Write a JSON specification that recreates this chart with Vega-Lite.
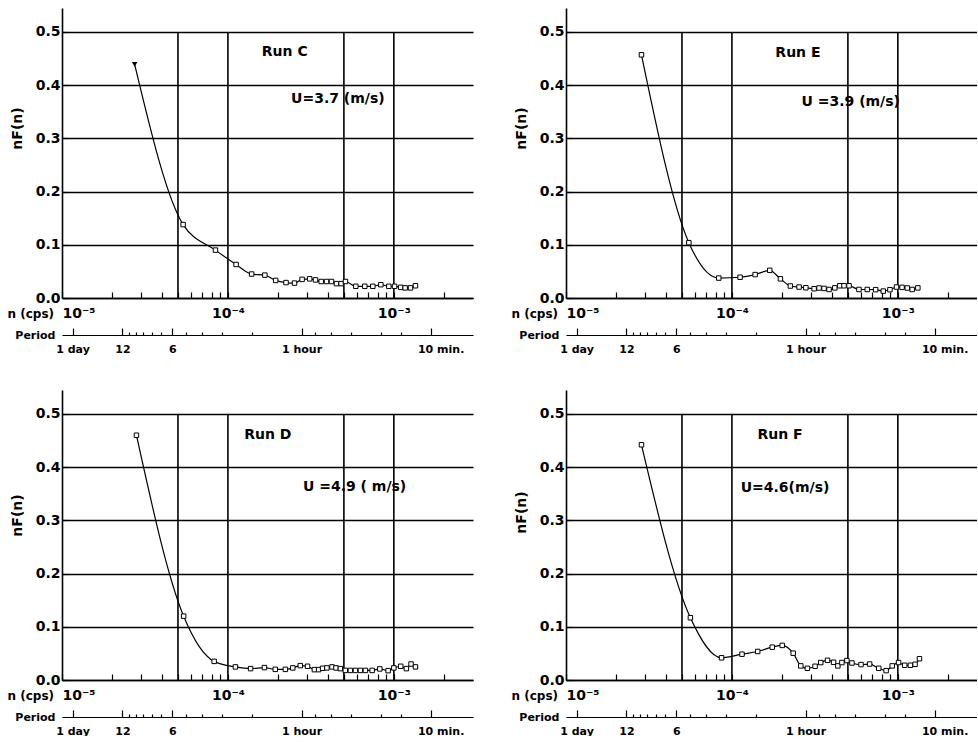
{
  "$schema": "https://vega.github.io/schema/vega-lite/v6.json",
  "background": "white",
  "padding": {"left": 7, "top": 8, "right": 0, "bottom": 0},
  "datasets": {
    "C": [
      {"f": 2.74e-5, "v": 0.439}, {"f": 5.37e-5, "v": 0.138}, {"f": 8.41e-5, "v": 0.090}, {"f": 1.12e-4, "v": 0.063},
      {"f": 1.39e-4, "v": 0.045}, {"f": 1.67e-4, "v": 0.043}, {"f": 1.94e-4, "v": 0.033}, {"f": 2.24e-4, "v": 0.029},
      {"f": 2.52e-4, "v": 0.028}, {"f": 2.80e-4, "v": 0.035}, {"f": 3.11e-4, "v": 0.036}, {"f": 3.37e-4, "v": 0.034},
      {"f": 3.65e-4, "v": 0.031}, {"f": 3.93e-4, "v": 0.031}, {"f": 4.21e-4, "v": 0.031}, {"f": 4.51e-4, "v": 0.027},
      {"f": 4.81e-4, "v": 0.027}, {"f": 5.11e-4, "v": 0.031}, {"f": 5.90e-4, "v": 0.022}, {"f": 6.68e-4, "v": 0.022},
      {"f": 7.47e-4, "v": 0.022}, {"f": 8.35e-4, "v": 0.025}, {"f": 9.33e-4, "v": 0.022}, {"f": 1.01e-3, "v": 0.022},
      {"f": 1.10e-3, "v": 0.020}, {"f": 1.17e-3, "v": 0.019}, {"f": 1.26e-3, "v": 0.019}, {"f": 1.35e-3, "v": 0.023}
    ],
    "E": [
      {"f": 2.85e-5, "v": 0.457}, {"f": 5.5e-5, "v": 0.104}, {"f": 8.33e-5, "v": 0.0375}, {"f": 1.12e-4, "v": 0.039},
      {"f": 1.38e-4, "v": 0.044}, {"f": 1.69e-4, "v": 0.052}, {"f": 1.96e-4, "v": 0.036}, {"f": 2.25e-4, "v": 0.0225},
      {"f": 2.54e-4, "v": 0.0206}, {"f": 2.79e-4, "v": 0.0193}, {"f": 3.13e-4, "v": 0.0174}, {"f": 3.35e-4, "v": 0.0188},
      {"f": 3.59e-4, "v": 0.018}, {"f": 3.85e-4, "v": 0.016}, {"f": 4.17e-4, "v": 0.019}, {"f": 4.47e-4, "v": 0.023},
      {"f": 4.74e-4, "v": 0.023}, {"f": 5.08e-4, "v": 0.023}, {"f": 5.83e-4, "v": 0.016}, {"f": 6.54e-4, "v": 0.016},
      {"f": 7.35e-4, "v": 0.0156}, {"f": 8.17e-4, "v": 0.013}, {"f": 8.96e-4, "v": 0.0156}, {"f": 9.82e-4, "v": 0.0206},
      {"f": 1.06e-3, "v": 0.020}, {"f": 1.14e-3, "v": 0.0188}, {"f": 1.22e-3, "v": 0.016}, {"f": 1.32e-3, "v": 0.019}
    ],
    "D": [
      {"f": 2.81e-5, "v": 0.46}, {"f": 5.41e-5, "v": 0.12}, {"f": 8.26e-5, "v": 0.035}, {"f": 1.11e-4, "v": 0.0246},
      {"f": 1.37e-4, "v": 0.0214}, {"f": 1.66e-4, "v": 0.0233}, {"f": 1.93e-4, "v": 0.020}, {"f": 2.22e-4, "v": 0.020},
      {"f": 2.46e-4, "v": 0.0227}, {"f": 2.73e-4, "v": 0.027}, {"f": 3.02e-4, "v": 0.0258}, {"f": 3.32e-4, "v": 0.0195},
      {"f": 3.52e-4, "v": 0.0195}, {"f": 3.72e-4, "v": 0.022}, {"f": 3.95e-4, "v": 0.0227}, {"f": 4.24e-4, "v": 0.0246},
      {"f": 4.48e-4, "v": 0.0227}, {"f": 4.76e-4, "v": 0.0214}, {"f": 5.1e-4, "v": 0.018}, {"f": 5.47e-4, "v": 0.018},
      {"f": 5.87e-4, "v": 0.018}, {"f": 6.29e-4, "v": 0.018}, {"f": 6.74e-4, "v": 0.018}, {"f": 7.4e-4, "v": 0.018},
      {"f": 8.23e-4, "v": 0.0208}, {"f": 9.24e-4, "v": 0.0176}, {"f": 1.0e-3, "v": 0.0227}, {"f": 1.10e-3, "v": 0.0258},
      {"f": 1.19e-3, "v": 0.0214}, {"f": 1.27e-3, "v": 0.030}, {"f": 1.35e-3, "v": 0.0246}
    ],
    "F": [
      {"f": 2.85e-5, "v": 0.442}, {"f": 5.62e-5, "v": 0.117}, {"f": 8.66e-5, "v": 0.0417}, {"f": 1.15e-4, "v": 0.0485},
      {"f": 1.43e-4, "v": 0.0536}, {"f": 1.75e-4, "v": 0.0617}, {"f": 2.01e-4, "v": 0.065}, {"f": 2.34e-4, "v": 0.0504},
      {"f": 2.6e-4, "v": 0.0265}, {"f": 2.85e-4, "v": 0.022}, {"f": 3.17e-4, "v": 0.0258}, {"f": 3.43e-4, "v": 0.0328},
      {"f": 3.77e-4, "v": 0.037}, {"f": 4.1e-4, "v": 0.0333}, {"f": 4.35e-4, "v": 0.0265}, {"f": 4.6e-4, "v": 0.0328},
      {"f": 4.93e-4, "v": 0.0366}, {"f": 5.29e-4, "v": 0.032}, {"f": 6.0e-4, "v": 0.029}, {"f": 6.76e-4, "v": 0.030},
      {"f": 7.67e-4, "v": 0.022}, {"f": 8.5e-4, "v": 0.0176}, {"f": 9.25e-4, "v": 0.0265}, {"f": 1.01e-3, "v": 0.0328},
      {"f": 1.10e-3, "v": 0.0277}, {"f": 1.19e-3, "v": 0.0277}, {"f": 1.27e-3, "v": 0.0295}, {"f": 1.35e-3, "v": 0.040}
    ],
    "grid": [{"f": 0.00005}, {"f": 0.0001}, {"f": 0.0005}, {"f": 0.001}],
    "periods": [
      {"p": 0.0000115740741}, {"p": 0.0000231481481}, {"p": 0.0000462962963}, {"p": 0.000277777778}, {"p": 0.00166666667}
    ]
  },
  "concat": [
    {
      "width": 411, "height": 290,
      "layer": [
        {"data": {"name": "grid"}, "mark": {"type": "rule", "color": "black", "strokeWidth": 1.6},
         "encoding": {
           "x": {"field": "f", "type": "quantitative", "scale": {"type": "log", "domain": [0.00001, 0.003], "nice": false},
                 "axis": {"orient": "bottom", "title": "n (cps)", "values": [0.00001,0.00002,0.00003,0.00004,0.00005,0.00006,0.00007,0.00008,0.00009,0.0001,0.0002,0.0003,0.0004,0.0005,0.0006,0.0007,0.0008,0.0009,0.001,0.002],
                          "tickSize": -6, "tickWidth": 1.2, "domainWidth": 1.6, "grid": false, "labelFlush": true, "labelOverlap": false, "labelPadding": 14, "labelFontSize": 14,
                          "labelExpr": "datum.value < 0.000015 ? '10⁻⁵' : abs(datum.value - 0.0001) < 0.000001 ? '10⁻⁴' : abs(datum.value - 0.001) < 0.00001 ? '10⁻³' : ''",
                          "titleX": -55, "titleY": 15, "titleAlign": "left", "titleBaseline": "middle", "titleFontSize": 12, "titleAngle": 0}},
           "y": {"datum": 0, "type": "quantitative", "scale": {"domain": [0, 0.545], "nice": false, "zero": false},
                 "axis": {"title": "nF(n)", "values": [0,0.05,0.1,0.15,0.2,0.25,0.3,0.35,0.4,0.45,0.5], "tickSize": -6, "tickWidth": 1.2, "domainWidth": 1.6,
                          "labelPadding": 8, "labelFontSize": 14, "labelExpr": "round(datum.value*100) % 10 == 0 ? format(datum.value, '.1f') : ''",
                          "grid": true, "gridColor": "black", "gridWidth": 1.6, "gridOpacity": {"condition": {"test": "round(datum.value*100) % 10 == 0", "value": 1}, "value": 0},
                          "titleX": -45, "titleY": 120, "titleFontSize": 14, "titleBaseline": "middle"}},
           "y2": {"datum": 0.5}
         }},
        {"data": {"name": "C"}, "mark": {"type": "line", "interpolate": "monotone", "color": "black", "strokeWidth": 1.2},
         "encoding": {"x": {"field": "f", "type": "quantitative", "scale": {"type": "log", "domain": [0.00001, 0.003], "nice": false}, "axis": null},
                      "y": {"field": "v", "type": "quantitative", "scale": {"domain": [0, 0.545], "nice": false, "zero": false}}}},
        {"data": {"name": "C"}, "transform": [{"filter": "datum.f > 0.00003"}],
         "mark": {"type": "point", "shape": "square", "filled": true, "fill": "white", "stroke": "black", "strokeWidth": 1, "size": 20, "opacity": 1},
         "encoding": {"x": {"field": "f", "type": "quantitative", "scale": {"type": "log", "domain": [0.00001, 0.003], "nice": false}, "axis": null},
                      "y": {"field": "v", "type": "quantitative", "scale": {"domain": [0, 0.545], "nice": false, "zero": false}}}},
        {"data": {"name": "C"}, "transform": [{"filter": "datum.f < 0.00003"}],
         "mark": {"type": "point", "shape": "triangle-down", "filled": true, "color": "black", "size": 30, "opacity": 1},
         "encoding": {"x": {"field": "f", "type": "quantitative", "scale": {"type": "log", "domain": [0.00001, 0.003], "nice": false}, "axis": null},
                      "y": {"field": "v", "type": "quantitative", "scale": {"domain": [0, 0.545], "nice": false, "zero": false}}}},
        {"data": {"values": [{}]}, "mark": {"type": "text", "fontSize": 14, "fontWeight": "bold", "color": "black"},
         "encoding": {"x": {"datum": 0.00022, "type": "quantitative", "scale": {"type": "log", "domain": [0.00001, 0.003], "nice": false}, "axis": null},
                      "y": {"datum": 0.462, "type": "quantitative", "scale": {"domain": [0, 0.545], "nice": false, "zero": false}},
                      "text": {"value": "Run C"}}},
        {"data": {"values": [{}]}, "mark": {"type": "text", "fontSize": 14, "fontWeight": "bold", "color": "black"},
         "encoding": {"x": {"datum": 0.00046, "type": "quantitative", "scale": {"type": "log", "domain": [0.00001, 0.003], "nice": false}, "axis": null},
                      "y": {"datum": 0.374, "type": "quantitative", "scale": {"domain": [0, 0.545], "nice": false, "zero": false}},
                      "text": {"value": "U=3.7 (m/s)"}}},
        {"data": {"name": "periods"}, "mark": {"type": "point", "opacity": 0},
         "encoding": {"x": {"field": "p", "type": "quantitative", "scale": {"type": "log", "domain": [0.00001, 0.003], "nice": false},
                            "axis": {"orient": "bottom", "offset": 37, "values": [0.0000115740741,0.0000231481481,0.0000462962963,0.000277777778,0.00166666667], "tickSize": -7, "tickWidth": 1.2, "domainWidth": 1.2,
                                     "grid": false, "labelOverlap": false, "labelFlush": false, "labelPadding": 15, "labelFontSize": 11,
                                     "labelExpr": "datum.value < 0.000015 ? '1 day' : datum.value < 0.00003 ? '12' : datum.value < 0.0001 ? '6' : datum.value < 0.001 ? '1 hour' : '10 min.'",
                                     "labelOffset": {"condition": {"test": "datum.value > 0.001", "value": 10}, "value": 0},
                                     "title": "Period", "titleX": -7, "titleY": 0, "titleAlign": "right", "titleBaseline": "middle", "titleFontSize": 11, "titleAngle": 0}},
                      "y": {"datum": 0, "type": "quantitative", "scale": {"domain": [0, 0.545], "nice": false, "zero": false}}}},
        {"data": {"name": "periods"}, "mark": {"type": "point", "opacity": 0},
         "encoding": {"x": {"field": "p", "type": "quantitative", "scale": {"type": "log", "domain": [0.00001, 0.003], "nice": false},
                            "axis": {"orient": "bottom", "offset": 37, "values": [0.000025253,0.000027778,0.000030864,0.000034722,0.000039683,0.000055556,0.000069444,0.000092593,0.00013889,0.00033333,0.00041667,0.00055556,0.00083333,0.0011111],
                                     "tickSize": -3, "tickWidth": 1.2, "domain": false, "labels": false, "grid": false, "title": null}},
                      "y": {"datum": 0, "type": "quantitative", "scale": {"domain": [0, 0.545], "nice": false, "zero": false}}}}
      ],
      "resolve": {"axis": {"x": "independent"}}
    },
    {
      "width": 411, "height": 290,
      "layer": [
        {"data": {"name": "grid"}, "mark": {"type": "rule", "color": "black", "strokeWidth": 1.6},
         "encoding": {
           "x": {"field": "f", "type": "quantitative", "scale": {"type": "log", "domain": [0.00001, 0.003], "nice": false},
                 "axis": {"orient": "bottom", "title": "n (cps)", "values": [0.00001,0.00002,0.00003,0.00004,0.00005,0.00006,0.00007,0.00008,0.00009,0.0001,0.0002,0.0003,0.0004,0.0005,0.0006,0.0007,0.0008,0.0009,0.001,0.002],
                          "tickSize": -6, "tickWidth": 1.2, "domainWidth": 1.6, "grid": false, "labelFlush": true, "labelOverlap": false, "labelPadding": 14, "labelFontSize": 14,
                          "labelExpr": "datum.value < 0.000015 ? '10⁻⁵' : abs(datum.value - 0.0001) < 0.000001 ? '10⁻⁴' : abs(datum.value - 0.001) < 0.00001 ? '10⁻³' : ''",
                          "titleX": -55, "titleY": 15, "titleAlign": "left", "titleBaseline": "middle", "titleFontSize": 12, "titleAngle": 0}},
           "y": {"datum": 0, "type": "quantitative", "scale": {"domain": [0, 0.545], "nice": false, "zero": false},
                 "axis": {"title": "nF(n)", "values": [0,0.05,0.1,0.15,0.2,0.25,0.3,0.35,0.4,0.45,0.5], "tickSize": -6, "tickWidth": 1.2, "domainWidth": 1.6,
                          "labelPadding": 8, "labelFontSize": 14, "labelExpr": "round(datum.value*100) % 10 == 0 ? format(datum.value, '.1f') : ''",
                          "grid": true, "gridColor": "black", "gridWidth": 1.6, "gridOpacity": {"condition": {"test": "round(datum.value*100) % 10 == 0", "value": 1}, "value": 0},
                          "titleX": -45, "titleY": 120, "titleFontSize": 14, "titleBaseline": "middle"}},
           "y2": {"datum": 0.5}
         }},
        {"data": {"name": "E"}, "mark": {"type": "line", "interpolate": "monotone", "color": "black", "strokeWidth": 1.2},
         "encoding": {"x": {"field": "f", "type": "quantitative", "scale": {"type": "log", "domain": [0.00001, 0.003], "nice": false}, "axis": null},
                      "y": {"field": "v", "type": "quantitative", "scale": {"domain": [0, 0.545], "nice": false, "zero": false}}}},
        {"data": {"name": "E"},
         "mark": {"type": "point", "shape": "square", "filled": true, "fill": "white", "stroke": "black", "strokeWidth": 1, "size": 20, "opacity": 1},
         "encoding": {"x": {"field": "f", "type": "quantitative", "scale": {"type": "log", "domain": [0.00001, 0.003], "nice": false}, "axis": null},
                      "y": {"field": "v", "type": "quantitative", "scale": {"domain": [0, 0.545], "nice": false, "zero": false}}}},
        {"data": {"values": [{}]}, "mark": {"type": "text", "fontSize": 14, "fontWeight": "bold", "color": "black"},
         "encoding": {"x": {"datum": 0.00025, "type": "quantitative", "scale": {"type": "log", "domain": [0.00001, 0.003], "nice": false}, "axis": null},
                      "y": {"datum": 0.46, "type": "quantitative", "scale": {"domain": [0, 0.545], "nice": false, "zero": false}},
                      "text": {"value": "Run E"}}},
        {"data": {"values": [{}]}, "mark": {"type": "text", "fontSize": 14, "fontWeight": "bold", "color": "black"},
         "encoding": {"x": {"datum": 0.00052, "type": "quantitative", "scale": {"type": "log", "domain": [0.00001, 0.003], "nice": false}, "axis": null},
                      "y": {"datum": 0.368, "type": "quantitative", "scale": {"domain": [0, 0.545], "nice": false, "zero": false}},
                      "text": {"value": "U =3.9 (m/s)"}}},
        {"data": {"name": "periods"}, "mark": {"type": "point", "opacity": 0},
         "encoding": {"x": {"field": "p", "type": "quantitative", "scale": {"type": "log", "domain": [0.00001, 0.003], "nice": false},
                            "axis": {"orient": "bottom", "offset": 37, "values": [0.0000115740741,0.0000231481481,0.0000462962963,0.000277777778,0.00166666667], "tickSize": -7, "tickWidth": 1.2, "domainWidth": 1.2,
                                     "grid": false, "labelOverlap": false, "labelFlush": false, "labelPadding": 15, "labelFontSize": 11,
                                     "labelExpr": "datum.value < 0.000015 ? '1 day' : datum.value < 0.00003 ? '12' : datum.value < 0.0001 ? '6' : datum.value < 0.001 ? '1 hour' : '10 min.'",
                                     "labelOffset": {"condition": {"test": "datum.value > 0.001", "value": 10}, "value": 0},
                                     "title": "Period", "titleX": -7, "titleY": 0, "titleAlign": "right", "titleBaseline": "middle", "titleFontSize": 11, "titleAngle": 0}},
                      "y": {"datum": 0, "type": "quantitative", "scale": {"domain": [0, 0.545], "nice": false, "zero": false}}}},
        {"data": {"name": "periods"}, "mark": {"type": "point", "opacity": 0},
         "encoding": {"x": {"field": "p", "type": "quantitative", "scale": {"type": "log", "domain": [0.00001, 0.003], "nice": false},
                            "axis": {"orient": "bottom", "offset": 37, "values": [0.000025253,0.000027778,0.000030864,0.000034722,0.000039683,0.000055556,0.000069444,0.000092593,0.00013889,0.00033333,0.00041667,0.00055556,0.00083333,0.0011111],
                                     "tickSize": -3, "tickWidth": 1.2, "domain": false, "labels": false, "grid": false, "title": null}},
                      "y": {"datum": 0, "type": "quantitative", "scale": {"domain": [0, 0.545], "nice": false, "zero": false}}}}
      ],
      "resolve": {"axis": {"x": "independent"}}
    },
    {
      "width": 411, "height": 290,
      "layer": [
        {"data": {"name": "grid"}, "mark": {"type": "rule", "color": "black", "strokeWidth": 1.6},
         "encoding": {
           "x": {"field": "f", "type": "quantitative", "scale": {"type": "log", "domain": [0.00001, 0.003], "nice": false},
                 "axis": {"orient": "bottom", "title": "n (cps)", "values": [0.00001,0.00002,0.00003,0.00004,0.00005,0.00006,0.00007,0.00008,0.00009,0.0001,0.0002,0.0003,0.0004,0.0005,0.0006,0.0007,0.0008,0.0009,0.001,0.002],
                          "tickSize": -6, "tickWidth": 1.2, "domainWidth": 1.6, "grid": false, "labelFlush": true, "labelOverlap": false, "labelPadding": 14, "labelFontSize": 14,
                          "labelExpr": "datum.value < 0.000015 ? '10⁻⁵' : abs(datum.value - 0.0001) < 0.000001 ? '10⁻⁴' : abs(datum.value - 0.001) < 0.00001 ? '10⁻³' : ''",
                          "titleX": -55, "titleY": 15, "titleAlign": "left", "titleBaseline": "middle", "titleFontSize": 12, "titleAngle": 0}},
           "y": {"datum": 0, "type": "quantitative", "scale": {"domain": [0, 0.545], "nice": false, "zero": false},
                 "axis": {"title": "nF(n)", "values": [0,0.05,0.1,0.15,0.2,0.25,0.3,0.35,0.4,0.45,0.5], "tickSize": -6, "tickWidth": 1.2, "domainWidth": 1.6,
                          "labelPadding": 8, "labelFontSize": 14, "labelExpr": "round(datum.value*100) % 10 == 0 ? format(datum.value, '.1f') : ''",
                          "grid": true, "gridColor": "black", "gridWidth": 1.6, "gridOpacity": {"condition": {"test": "round(datum.value*100) % 10 == 0", "value": 1}, "value": 0},
                          "titleX": -45, "titleY": 125, "titleFontSize": 14, "titleBaseline": "middle"}},
           "y2": {"datum": 0.5}
         }},
        {"data": {"name": "D"}, "mark": {"type": "line", "interpolate": "monotone", "color": "black", "strokeWidth": 1.2},
         "encoding": {"x": {"field": "f", "type": "quantitative", "scale": {"type": "log", "domain": [0.00001, 0.003], "nice": false}, "axis": null},
                      "y": {"field": "v", "type": "quantitative", "scale": {"domain": [0, 0.545], "nice": false, "zero": false}}}},
        {"data": {"name": "D"},
         "mark": {"type": "point", "shape": "square", "filled": true, "fill": "white", "stroke": "black", "strokeWidth": 1, "size": 20, "opacity": 1},
         "encoding": {"x": {"field": "f", "type": "quantitative", "scale": {"type": "log", "domain": [0.00001, 0.003], "nice": false}, "axis": null},
                      "y": {"field": "v", "type": "quantitative", "scale": {"domain": [0, 0.545], "nice": false, "zero": false}}}},
        {"data": {"values": [{}]}, "mark": {"type": "text", "fontSize": 14, "fontWeight": "bold", "color": "black"},
         "encoding": {"x": {"datum": 0.000174, "type": "quantitative", "scale": {"type": "log", "domain": [0.00001, 0.003], "nice": false}, "axis": null},
                      "y": {"datum": 0.46, "type": "quantitative", "scale": {"domain": [0, 0.545], "nice": false, "zero": false}},
                      "text": {"value": "Run  D"}}},
        {"data": {"values": [{}]}, "mark": {"type": "text", "fontSize": 14, "fontWeight": "bold", "color": "black"},
         "encoding": {"x": {"datum": 0.00058, "type": "quantitative", "scale": {"type": "log", "domain": [0.00001, 0.003], "nice": false}, "axis": null},
                      "y": {"datum": 0.362, "type": "quantitative", "scale": {"domain": [0, 0.545], "nice": false, "zero": false}},
                      "text": {"value": "U =4.9  ( m/s)"}}},
        {"data": {"name": "periods"}, "mark": {"type": "point", "opacity": 0},
         "encoding": {"x": {"field": "p", "type": "quantitative", "scale": {"type": "log", "domain": [0.00001, 0.003], "nice": false},
                            "axis": {"orient": "bottom", "offset": 37, "values": [0.0000115740741,0.0000231481481,0.0000462962963,0.000277777778,0.00166666667], "tickSize": -7, "tickWidth": 1.2, "domainWidth": 1.2,
                                     "grid": false, "labelOverlap": false, "labelFlush": false, "labelPadding": 15, "labelFontSize": 11,
                                     "labelExpr": "datum.value < 0.000015 ? '1 day' : datum.value < 0.00003 ? '12' : datum.value < 0.0001 ? '6' : datum.value < 0.001 ? '1 hour' : '10 min.'",
                                     "labelOffset": {"condition": {"test": "datum.value > 0.001", "value": 10}, "value": 0},
                                     "title": "Period", "titleX": -7, "titleY": 0, "titleAlign": "right", "titleBaseline": "middle", "titleFontSize": 11, "titleAngle": 0}},
                      "y": {"datum": 0, "type": "quantitative", "scale": {"domain": [0, 0.545], "nice": false, "zero": false}}}},
        {"data": {"name": "periods"}, "mark": {"type": "point", "opacity": 0},
         "encoding": {"x": {"field": "p", "type": "quantitative", "scale": {"type": "log", "domain": [0.00001, 0.003], "nice": false},
                            "axis": {"orient": "bottom", "offset": 37, "values": [0.000025253,0.000027778,0.000030864,0.000034722,0.000039683,0.000055556,0.000069444,0.000092593,0.00013889,0.00033333,0.00041667,0.00055556,0.00083333,0.0011111],
                                     "tickSize": -3, "tickWidth": 1.2, "domain": false, "labels": false, "grid": false, "title": null}},
                      "y": {"datum": 0, "type": "quantitative", "scale": {"domain": [0, 0.545], "nice": false, "zero": false}}}}
      ],
      "resolve": {"axis": {"x": "independent"}}
    },
    {
      "width": 411, "height": 290,
      "layer": [
        {"data": {"name": "grid"}, "mark": {"type": "rule", "color": "black", "strokeWidth": 1.6},
         "encoding": {
           "x": {"field": "f", "type": "quantitative", "scale": {"type": "log", "domain": [0.00001, 0.003], "nice": false},
                 "axis": {"orient": "bottom", "title": "n (cps)", "values": [0.00001,0.00002,0.00003,0.00004,0.00005,0.00006,0.00007,0.00008,0.00009,0.0001,0.0002,0.0003,0.0004,0.0005,0.0006,0.0007,0.0008,0.0009,0.001,0.002],
                          "tickSize": -6, "tickWidth": 1.2, "domainWidth": 1.6, "grid": false, "labelFlush": true, "labelOverlap": false, "labelPadding": 14, "labelFontSize": 14,
                          "labelExpr": "datum.value < 0.000015 ? '10⁻⁵' : abs(datum.value - 0.0001) < 0.000001 ? '10⁻⁴' : abs(datum.value - 0.001) < 0.00001 ? '10⁻³' : ''",
                          "titleX": -55, "titleY": 15, "titleAlign": "left", "titleBaseline": "middle", "titleFontSize": 12, "titleAngle": 0}},
           "y": {"datum": 0, "type": "quantitative", "scale": {"domain": [0, 0.545], "nice": false, "zero": false},
                 "axis": {"title": "nF(n)", "values": [0,0.05,0.1,0.15,0.2,0.25,0.3,0.35,0.4,0.45,0.5], "tickSize": -6, "tickWidth": 1.2, "domainWidth": 1.6,
                          "labelPadding": 8, "labelFontSize": 14, "labelExpr": "round(datum.value*100) % 10 == 0 ? format(datum.value, '.1f') : ''",
                          "grid": true, "gridColor": "black", "gridWidth": 1.6, "gridOpacity": {"condition": {"test": "round(datum.value*100) % 10 == 0", "value": 1}, "value": 0},
                          "titleX": -45, "titleY": 122, "titleFontSize": 14, "titleBaseline": "middle"}},
           "y2": {"datum": 0.5}
         }},
        {"data": {"name": "F"}, "mark": {"type": "line", "interpolate": "monotone", "color": "black", "strokeWidth": 1.2},
         "encoding": {"x": {"field": "f", "type": "quantitative", "scale": {"type": "log", "domain": [0.00001, 0.003], "nice": false}, "axis": null},
                      "y": {"field": "v", "type": "quantitative", "scale": {"domain": [0, 0.545], "nice": false, "zero": false}}}},
        {"data": {"name": "F"},
         "mark": {"type": "point", "shape": "square", "filled": true, "fill": "white", "stroke": "black", "strokeWidth": 1, "size": 20, "opacity": 1},
         "encoding": {"x": {"field": "f", "type": "quantitative", "scale": {"type": "log", "domain": [0.00001, 0.003], "nice": false}, "axis": null},
                      "y": {"field": "v", "type": "quantitative", "scale": {"domain": [0, 0.545], "nice": false, "zero": false}}}},
        {"data": {"values": [{}]}, "mark": {"type": "text", "fontSize": 14, "fontWeight": "bold", "color": "black"},
         "encoding": {"x": {"datum": 0.000195, "type": "quantitative", "scale": {"type": "log", "domain": [0.00001, 0.003], "nice": false}, "axis": null},
                      "y": {"datum": 0.46, "type": "quantitative", "scale": {"domain": [0, 0.545], "nice": false, "zero": false}},
                      "text": {"value": "Run F"}}},
        {"data": {"values": [{}]}, "mark": {"type": "text", "fontSize": 14, "fontWeight": "bold", "color": "black"},
         "encoding": {"x": {"datum": 0.000209, "type": "quantitative", "scale": {"type": "log", "domain": [0.00001, 0.003], "nice": false}, "axis": null},
                      "y": {"datum": 0.36, "type": "quantitative", "scale": {"domain": [0, 0.545], "nice": false, "zero": false}},
                      "text": {"value": "U=4.6(m/s)"}}},
        {"data": {"name": "periods"}, "mark": {"type": "point", "opacity": 0},
         "encoding": {"x": {"field": "p", "type": "quantitative", "scale": {"type": "log", "domain": [0.00001, 0.003], "nice": false},
                            "axis": {"orient": "bottom", "offset": 37, "values": [0.0000115740741,0.0000231481481,0.0000462962963,0.000277777778,0.00166666667], "tickSize": -7, "tickWidth": 1.2, "domainWidth": 1.2,
                                     "grid": false, "labelOverlap": false, "labelFlush": false, "labelPadding": 15, "labelFontSize": 11,
                                     "labelExpr": "datum.value < 0.000015 ? '1 day' : datum.value < 0.00003 ? '12' : datum.value < 0.0001 ? '6' : datum.value < 0.001 ? '1 hour' : '10 min.'",
                                     "labelOffset": {"condition": {"test": "datum.value > 0.001", "value": 10}, "value": 0},
                                     "title": "Period", "titleX": -7, "titleY": 0, "titleAlign": "right", "titleBaseline": "middle", "titleFontSize": 11, "titleAngle": 0}},
                      "y": {"datum": 0, "type": "quantitative", "scale": {"domain": [0, 0.545], "nice": false, "zero": false}}}},
        {"data": {"name": "periods"}, "mark": {"type": "point", "opacity": 0},
         "encoding": {"x": {"field": "p", "type": "quantitative", "scale": {"type": "log", "domain": [0.00001, 0.003], "nice": false},
                            "axis": {"orient": "bottom", "offset": 37, "values": [0.000025253,0.000027778,0.000030864,0.000034722,0.000039683,0.000055556,0.000069444,0.000092593,0.00013889,0.00033333,0.00041667,0.00055556,0.00083333,0.0011111],
                                     "tickSize": -3, "tickWidth": 1.2, "domain": false, "labels": false, "grid": false, "title": null}},
                      "y": {"datum": 0, "type": "quantitative", "scale": {"domain": [0, 0.545], "nice": false, "zero": false}}}}
      ],
      "resolve": {"axis": {"x": "independent"}}
    }
  ],
  "columns": 2,
  "spacing": {"row": 92, "column": 93},
  "bounds": "flush",
  "config": {
    "view": {"stroke": null},
    "font": "DejaVu Sans",
    "axis": {"labelFont": "DejaVu Sans", "titleFont": "DejaVu Sans", "labelFontWeight": "bold", "titleFontWeight": "bold",
             "labelColor": "black", "titleColor": "black", "domainColor": "black", "tickColor": "black"},
    "text": {"font": "DejaVu Sans"}
  }
}
